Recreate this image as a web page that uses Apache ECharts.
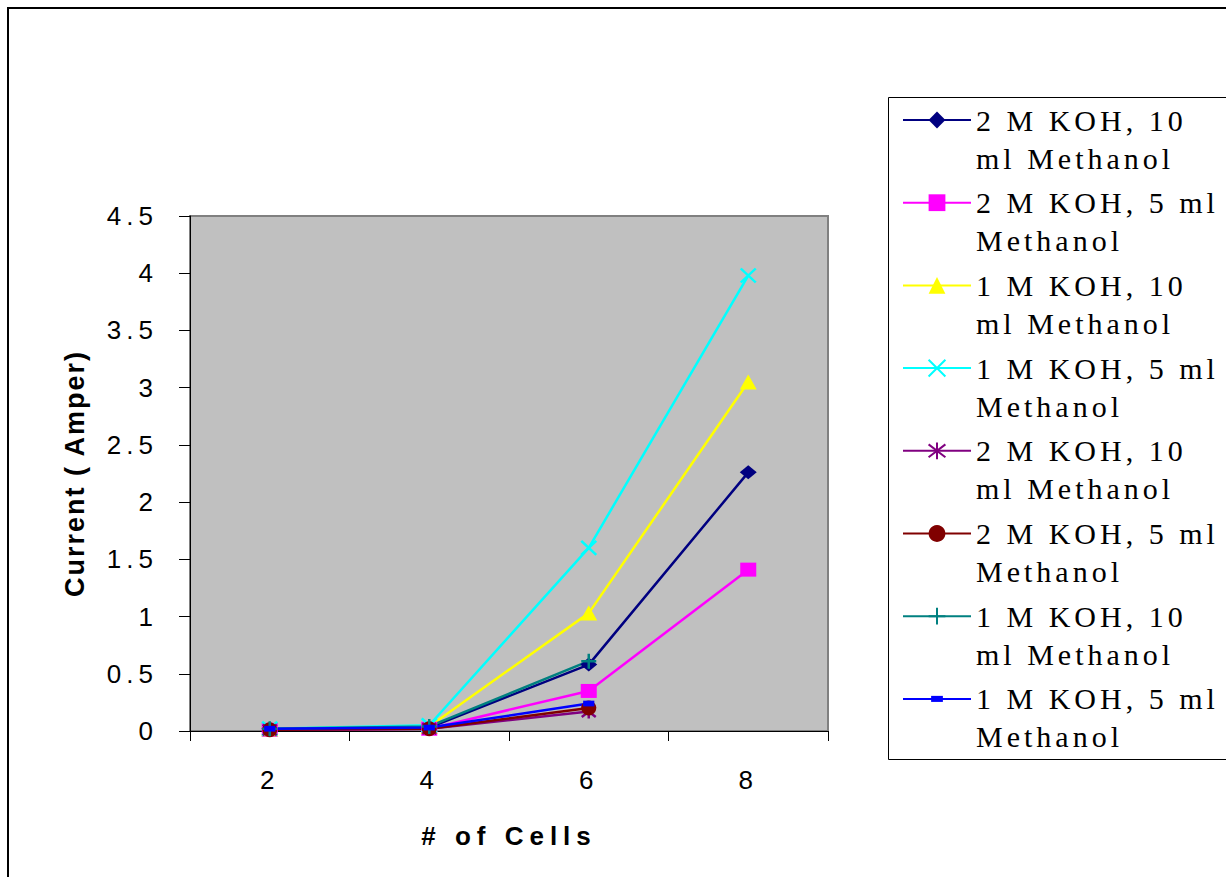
<!DOCTYPE html>
<html>
<head>
<meta charset="utf-8">
<script src="https://cdn.jsdelivr.net/npm/echarts@6/dist/echarts.min.js"></script>
<style>
  html, body { margin: 0; padding: 0; background: #fff; }
  #chart { width: 1226px; height: 877px; }
  /* wide letter spacing used throughout this chart's typography */
  #chart text[style*="Serif"], #chart text[font-family*="Serif"] { letter-spacing: 4px; }
  #chart text[style*="Arial"], #chart text[font-family*="Arial"] { letter-spacing: 5px; }
  #chart text[style*="Helvetica"], #chart text[font-family*="Helvetica"] { letter-spacing: 6px; }
  #chart text[style*="FreeSans"], #chart text[font-family*="FreeSans"] { letter-spacing: 2px; }
</style>
</head>
<body>
<div id="chart"></div>
<script>
// x categories: number of cells in the stack
const cells = ['2', '4', '6', '8'];

// measured current (A) per configuration
const koh2m10mlA = [0.02, 0.03, 0.58, 2.26];
const koh2m5mlA  = [0.01, 0.02, 0.35, 1.41];
const koh1m10mlA = [0.02, 0.04, 1.03, 3.05];
const koh1m5mlA  = [0.02, 0.05, 1.60, 3.98];
const koh2m10mlB = [0.01, 0.02, 0.17];
const koh2m5mlB  = [0.01, 0.02, 0.20];
const koh1m10mlB = [0.02, 0.04, 0.61];
const koh1m5mlB  = [0.02, 0.03, 0.24];

// legend captions (wrapped over two lines)
const captions = [
  '2 M KOH, 10\nml Methanol',
  '2 M KOH, 5 ml\nMethanol',
  '1 M KOH, 10\nml Methanol',
  '1 M KOH, 5 ml\nMethanol',
  '2 M KOH, 10\nml Methanol',
  '2 M KOH, 5 ml\nMethanol',
  '1 M KOH, 10\nml Methanol',
  '1 M KOH, 5 ml\nMethanol'
];

// y axis scale
const yMin = 0, yMax = 4.5, yStep = 0.5;

const seriesKeys = ['s1', 's2', 's3', 's4', 's5', 's6', 's7', 's8'];
const seriesData = [koh2m10mlA, koh2m5mlA, koh1m10mlA, koh1m5mlA, koh2m10mlB, koh2m5mlB, koh1m10mlB, koh1m5mlB];
const colors = ['#000080', '#FF00FF', '#FFFF00', '#00FFFF', '#800080', '#800000', '#008080', '#0000FF'];

// marker shapes
const CROSS_X = 'path://M0,0L10,10M10,0L0,10';
const PLUS = 'path://M5,0L5,10M0,5L10,5';
const ASTERISK = 'path://M0,0L10,10M10,0L0,10M5,-1.5L5,11.5';
// short flat bar; the two bare move-to points pad its box to a square
const DASH = 'path://M0,0M10,10M1.5,3.2L8.5,3.2L8.5,6.8L1.5,6.8Z';

const markers = [
  { symbol: 'diamond', size: [17, 14], stroke: false },
  { symbol: 'rect', size: [16, 14], stroke: false },
  { symbol: 'triangle', size: [17, 15], stroke: false },
  { symbol: CROSS_X, size: [15, 14], stroke: true },
  { symbol: ASTERISK, size: [14, 14], stroke: true },
  { symbol: 'circle', size: 15, stroke: false },
  { symbol: PLUS, size: [15, 15], stroke: true },
  { symbol: DASH, size: 16, stroke: false }
];

const series = seriesKeys.map((key, i) => ({
  name: key,
  type: 'line',
  data: seriesData[i],
  symbol: markers[i].symbol,
  symbolSize: markers[i].size,
  showSymbol: true,
  lineStyle: { color: colors[i], width: 2.5 },
  itemStyle: markers[i].stroke
    ? { color: colors[i], borderColor: colors[i], borderWidth: 2.5 }
    : { color: colors[i], borderWidth: 0 },
  emphasis: { disabled: true },
  z: 3
}));

const chart = echarts.init(document.getElementById('chart'), null, { renderer: 'svg' });

chart.setOption({
  animation: false,
  backgroundColor: '#fff',
  grid: {
    left: 190, top: 216, width: 638, height: 515,
    show: true,
    backgroundColor: '#C0C0C0',
    borderColor: '#808080',
    borderWidth: 2,
    containLabel: false,
    outerBoundsMode: 'none'
  },
  xAxis: {
    type: 'category',
    data: cells,
    boundaryGap: true,
    name: '# of Cells',
    nameLocation: 'middle',
    nameGap: 92,
    nameMoveOverlap: false,
    nameTextStyle: { fontFamily: 'Liberation Sans, Helvetica', fontWeight: 'bold', fontSize: 26, color: '#000' },
    axisLine: { show: true, lineStyle: { color: '#000', width: 1 } },
    axisTick: { show: true, length: 10, lineStyle: { color: '#000' } },
    axisLabel: { color: '#000', fontFamily: 'Liberation Sans, Arial', fontSize: 26, margin: 36 },
    splitLine: { show: false }
  },
  yAxis: {
    type: 'value',
    min: yMin, max: yMax, interval: yStep,
    name: 'Current ( Amper)',
    nameLocation: 'middle',
    nameGap: 102,
    nameRotate: 90,
    nameMoveOverlap: false,
    nameTextStyle: { fontFamily: 'Liberation Sans, FreeSans', fontWeight: 'bold', fontSize: 27, color: '#000' },
    axisLine: { show: true, lineStyle: { color: '#000', width: 1 } },
    axisTick: { show: true, length: 11, lineStyle: { color: '#000' } },
    axisLabel: { color: '#000', fontFamily: 'Liberation Sans, Arial', fontSize: 26, margin: 32 },
    splitLine: { show: false }
  },
  legend: {
    orient: 'vertical',
    left: 897,
    top: 58,
    itemWidth: 68,
    itemHeight: 21,
    itemGap: -31.3,
    selectedMode: false,
    data: seriesKeys,
    // a leading blank line keeps the first caption line level with the icon
    formatter: name => '\n' + captions[seriesKeys.indexOf(name)],
    textStyle: {
      fontFamily: 'Liberation Serif',
      fontSize: 30,
      lineHeight: 38,
      color: '#000'
    }
  },
  graphic: [
    {
      type: 'rect',
      silent: true,
      z: -10,
      shape: { x: 8, y: 8, width: 1260, height: 900 },
      style: { fill: 'none', stroke: '#000', lineWidth: 2 }
    },
    {
      type: 'rect',
      silent: true,
      z: 0,
      shape: { x: 888.5, y: 97.5, width: 400, height: 662 },
      style: { fill: '#fff', stroke: '#000', lineWidth: 1 }
    }
  ],
  series: series
});
</script>
</body>
</html>
